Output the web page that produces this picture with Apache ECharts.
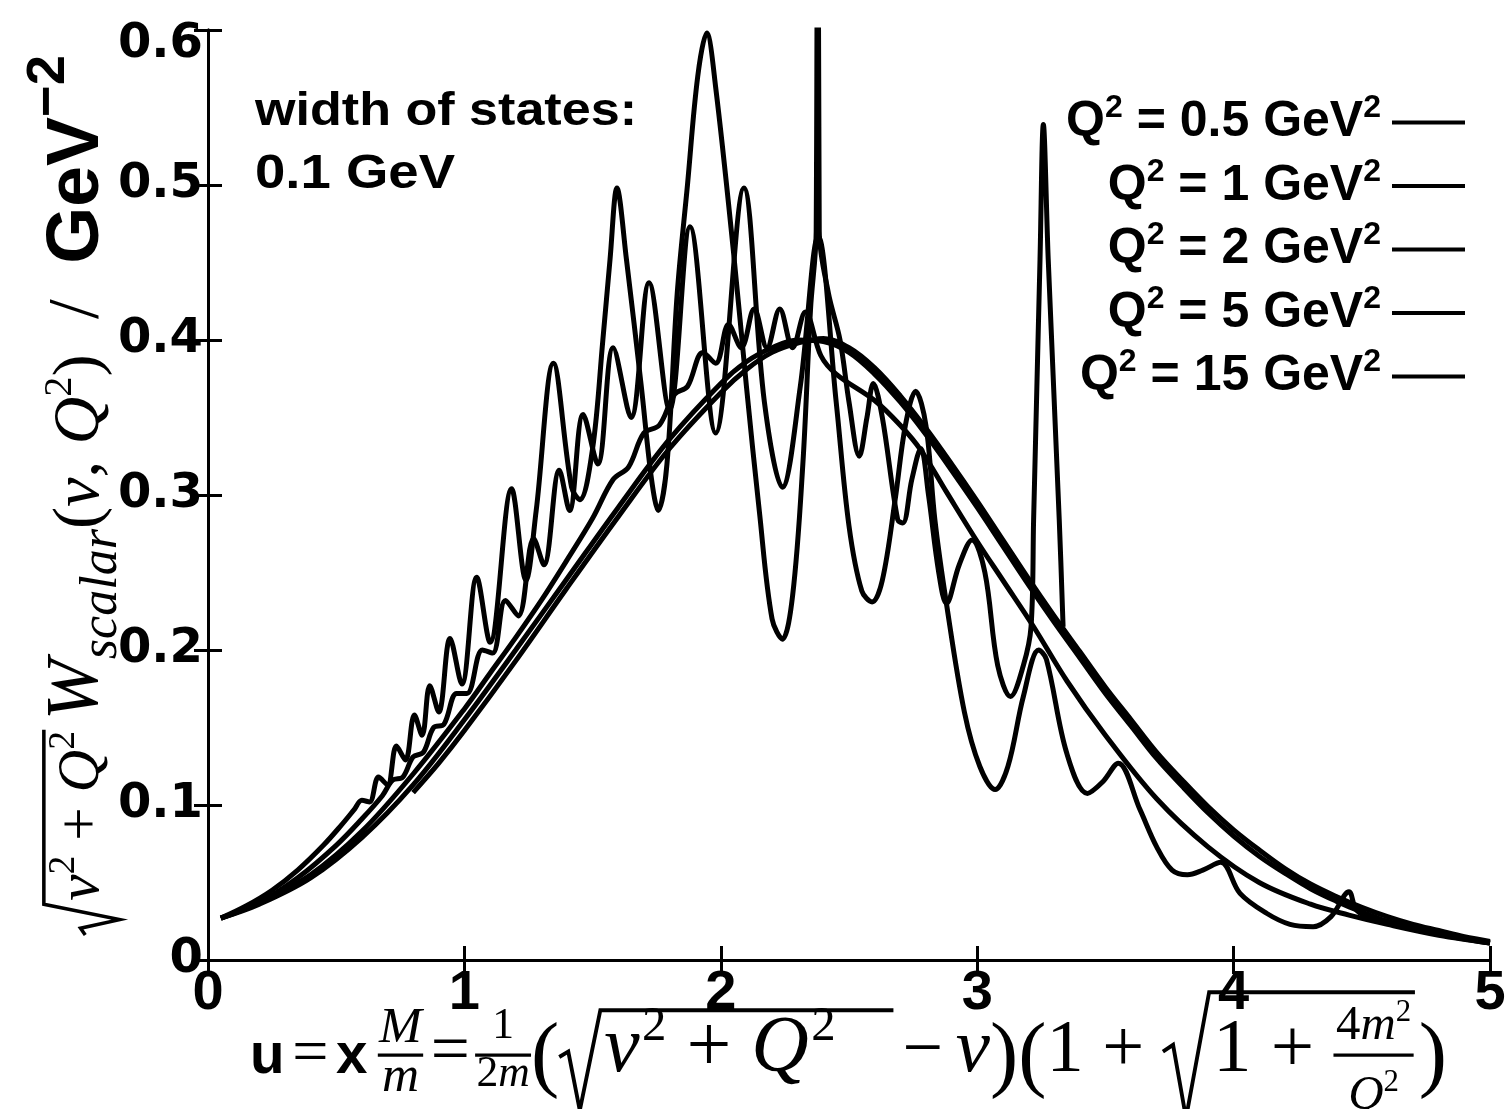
<!DOCTYPE html>
<html><head><meta charset="utf-8">
<script src="https://cdn.jsdelivr.net/npm/echarts@6/dist/echarts.min.js"></script>
<style>html,body{margin:0;padding:0;background:#fff}#c{width:1511px;height:1109px}</style>
</head><body><div id="c"></div>
<script>
// ---------------- data ----------------
const xTicks = [0, 1, 2, 3, 4, 5];
const yTicks = [0, 0.1, 0.2, 0.3, 0.4, 0.5, 0.6];
const seriesNames = ['Q² = 0.5 GeV²', 'Q² = 1 GeV²', 'Q² = 2 GeV²', 'Q² = 5 GeV²', 'Q² = 15 GeV²'];

const q2_05 = [[0.05,0.027],[0.15,0.035],[0.25,0.045],[0.35,0.058],[0.45,0.074],[0.52,0.087],[0.57,0.097],[0.60,0.103],[0.63,0.102],[0.665,0.118],[0.70,0.113],[0.735,0.138],[0.77,0.129],[0.805,0.158],[0.835,0.145],[0.865,0.177],[0.90,0.160],[0.944,0.2075],[0.99,0.178],[1.048,0.247],[1.10,0.205],[1.184,0.304],[1.24,0.245],[1.28,0.29],[1.347,0.385],[1.418,0.305],[1.45,0.297],[1.50,0.33],[1.54,0.40],[1.568,0.452],[1.595,0.498],[1.632,0.452],[1.69,0.37],[1.73,0.31],[1.756,0.29],[1.79,0.32],[1.83,0.43],[1.87,0.50],[1.91,0.57],[1.945,0.598],[1.98,0.563],[2.05,0.456],[2.10,0.37],[2.15,0.29],[2.20,0.22],[2.24,0.207],[2.28,0.235],[2.32,0.32],[2.35,0.42],[2.372,0.47],[2.378,0.90],[2.384,0.47],[2.42,0.43],[2.465,0.40],[2.50,0.36],[2.54,0.325],[2.57,0.35],[2.595,0.372],[2.63,0.35],[2.69,0.284],[2.71,0.282],[2.745,0.31],[2.78,0.33],[2.81,0.30],[2.85,0.25],[2.88,0.23],[2.93,0.255],[2.98,0.271],[3.03,0.25],[3.08,0.19],[3.13,0.17],[3.18,0.19],[3.21,0.215],[3.22,0.284],[3.245,0.452],[3.258,0.539],[3.277,0.452],[3.32,0.284],[3.335,0.215]];

const q2_1 = [[0.05,0.027],[0.2,0.037],[0.35,0.053],[0.5,0.074],[0.6,0.091],[0.68,0.106],[0.72,0.116],[0.76,0.118],[0.80,0.131],[0.84,0.134],[0.88,0.150],[0.92,0.152],[0.97,0.172],[1.01,0.172],[1.07,0.200],[1.11,0.198],[1.16,0.232],[1.21,0.222],[1.27,0.272],[1.31,0.255],[1.37,0.316],[1.41,0.290],[1.463,0.352],[1.52,0.320],[1.58,0.395],[1.65,0.350],[1.72,0.437],[1.80,0.355],[1.88,0.473],[1.98,0.340],[2.09,0.498],[2.17,0.36],[2.24,0.305],[2.31,0.37],[2.38,0.467],[2.45,0.36],[2.50,0.28],[2.55,0.238],[2.59,0.231],[2.63,0.245],[2.68,0.297],[2.72,0.345],[2.76,0.367],[2.80,0.345],[2.835,0.284],[2.88,0.23],[2.95,0.16],[3.01,0.125],[3.07,0.11],[3.12,0.125],[3.18,0.17],[3.24,0.20],[3.27,0.194],[3.35,0.133],[3.43,0.1075],[3.49,0.115],[3.55,0.127],[3.635,0.097],[3.70,0.073],[3.76,0.058],[3.82,0.055],[3.88,0.058],[3.95,0.063],[4.025,0.043],[4.13,0.030],[4.22,0.023],[4.31,0.0215],[4.38,0.028],[4.45,0.044],[4.48,0.032],[4.55,0.026],[4.7,0.020],[4.85,0.015],[5.0,0.011]];

const q2_2 = [[0.05,0.027],[0.2,0.037],[0.4,0.055],[0.6,0.083],[0.8,0.120],[1.0,0.162],[1.1,0.185],[1.2,0.208],[1.3,0.232],[1.4,0.258],[1.5,0.285],[1.58,0.31],[1.64,0.318],[1.70,0.34],[1.76,0.345],[1.82,0.365],[1.87,0.37],[1.93,0.392],[1.98,0.385],[2.03,0.41],[2.08,0.395],[2.13,0.42],[2.18,0.395],[2.23,0.42],[2.28,0.395],[2.33,0.418],[2.39,0.39],[2.45,0.378],[2.6,0.361],[2.7,0.345],[2.78,0.329],[2.88,0.302],[3.0,0.270],[3.1,0.245],[3.22,0.215],[3.35,0.180],[3.5,0.145],[3.7,0.104],[3.9,0.073],[4.1,0.050],[4.3,0.036],[4.45,0.029],[4.6,0.023],[4.8,0.016],[5.0,0.011]];

const q2_5 = [[0.05,0.027],[0.2,0.036],[0.4,0.053],[0.6,0.079],[0.8,0.113],[1.0,0.155],[1.2,0.200],[1.4,0.246],[1.6,0.292],[1.8,0.336],[2.0,0.372],[2.1,0.386],[2.2,0.395],[2.3,0.400],[2.4,0.399],[2.5,0.392],[2.6,0.378],[2.7,0.360],[2.8,0.339],[2.9,0.316],[3.0,0.292],[3.1,0.267],[3.2,0.242],[3.3,0.218],[3.4,0.195],[3.5,0.172],[3.6,0.151],[3.7,0.130],[3.8,0.112],[3.9,0.095],[4.0,0.080],[4.1,0.067],[4.2,0.056],[4.3,0.046],[4.4,0.038],[4.5,0.031],[4.6,0.025],[4.7,0.021],[4.8,0.017],[4.9,0.014],[5.0,0.011]];

const q2_15 = [[0.80,0.108],[0.9,0.127],[1.0,0.148],[1.2,0.193],[1.4,0.240],[1.6,0.286],[1.8,0.330],[2.0,0.366],[2.1,0.381],[2.2,0.392],[2.3,0.398],[2.4,0.401],[2.5,0.395],[2.6,0.382],[2.7,0.364],[2.8,0.343],[2.9,0.320],[3.0,0.296],[3.1,0.271],[3.2,0.246],[3.3,0.222],[3.4,0.199],[3.5,0.176],[3.6,0.155],[3.7,0.134],[3.8,0.116],[3.9,0.099],[4.0,0.084],[4.1,0.071],[4.2,0.059],[4.3,0.049],[4.4,0.041],[4.5,0.034],[4.6,0.028],[4.7,0.023],[4.8,0.019],[4.9,0.015],[5.0,0.012]];

const seriesData = [q2_05, q2_1, q2_2, q2_5, q2_15];

// ---------------- text layout helpers ----------------
const SERIF = "'Liberation Serif','DejaVu Serif',serif";
const SANS = "'Liberation Sans','DejaVu Sans',sans-serif";
const mctx = document.createElement('canvas').getContext('2d');
function fnt(z, st) {
  if (st === 'i') return 'italic ' + z + 'px ' + SERIF;
  if (st === 'b') return 'bold ' + z + 'px ' + SANS;
  return z + 'px ' + SERIF;
}
function tw(s, f) { mctx.font = f; return mctx.measureText(s).width; }
function layout(tokens, x0, base, els) {
  let x = x0;
  for (const tk of tokens) {
    if (tk.frac) {
      const wn = layout(tk.frac[0], 0, 0, []), wd = layout(tk.frac[1], 0, 0, []);
      const w = Math.max(wn, wd) + tk.pad * 2;
      layout(tk.frac[0], x + (w - wn) / 2, base - tk.up, els);
      layout(tk.frac[1], x + (w - wd) / 2, base + tk.down, els);
      els.push({type: 'rect', shape: {x: x, y: base - tk.bar - tk.lw / 2, width: w, height: tk.lw}, style: {fill: '#000'}});
      x += w + (tk.gap || 0);
    } else if (tk.sqrt) {
      const bw = layout(tk.sqrt, 0, 0, []) + (tk.extra || 0);
      const rw = tk.rw;
      els.push({type: 'polyline', shape: {points: [[x, base - 0.3 * tk.top], [x + rw * 0.22, base - 0.38 * tk.top], [x + rw * 0.5, base + tk.depth], [x + rw, base - tk.top], [x + rw + bw + 4, base - tk.top]]}, style: {stroke: '#000', lineWidth: 3, fill: null}});
      layout(tk.sqrt, x + rw + 3, base, els);
      x += rw + bw + 7;
    } else {
      const f = fnt(tk.z, tk.st);
      els.push({type: 'text', x: x + (tk.pre || 0), y: base + (tk.dy || 0) - 0.34 * tk.z, style: {text: tk.s, font: f, fill: '#000', align: 'left', verticalAlign: 'middle'}});
      x += (tk.pre || 0) + tw(tk.s, f) + (tk.k || 0);
    }
  }
  return x;
}
function buildTitle(tokens, target) {
  const els = [];
  const w = layout(tokens, 0, 0, els);
  return {els: els, scale: target / w};
}

const xTitleTokens = [
  {s: 'u', z: 44, st: 'b', k: 6}, {s: '=', z: 50, st: 'r', k: 6}, {s: 'x', z: 44, st: 'b', k: 8},
  {frac: [[{s: 'M', z: 40, st: 'i'}], [{s: 'm', z: 40, st: 'i'}]], up: 24, down: 14, bar: 17, lw: 2.5, pad: 1, gap: 6},
  {s: '=', z: 54, st: 'r', k: 4},
  {frac: [[{s: '1', z: 34, st: 'r'}], [{s: '2', z: 34, st: 'r'}, {s: 'm', z: 34, st: 'i'}]], up: 28, down: 10, bar: 17, lw: 2.5, pad: 1, gap: 0},
  {s: '(', z: 66, st: 'r', dy: 8},
  {sqrt: [{s: 'ν', z: 62, st: 'i', k: 2}, {s: '2', z: 38, st: 'r', dy: -26}, {s: ' + ', z: 62, st: 'r'}, {s: 'Q', z: 62, st: 'i', k: 2}, {s: '2', z: 38, st: 'r', dy: -26}], top: 52, depth: 26, rw: 32, extra: 44},
  {s: '−', z: 56, st: 'r', pre: 4, k: 10}, {s: 'ν', z: 60, st: 'i'}, {s: ')(', z: 66, st: 'r', dy: 8}, {s: '1 + ', z: 58, st: 'r'},
  {sqrt: [{s: '1 + ', z: 60, st: 'r'}, {frac: [[{s: '4', z: 38, st: 'r'}, {s: 'm', z: 38, st: 'i'}, {s: '2', z: 24, st: 'r', dy: -15}], [{s: 'Q', z: 38, st: 'i'}, {s: '2', z: 24, st: 'r', dy: -15}]], up: 27, down: 28, bar: 17, lw: 2.5, pad: 2, gap: 0}], top: 66, depth: 32, rw: 36},
  {s: ')', z: 66, st: 'r', dy: 8}
];
const yTitleTokens = [
  {sqrt: [{s: 'ν', z: 50, st: 'i'}, {s: '2', z: 32, st: 'r', dy: -22}, {s: ' + ', z: 50, st: 'r'}, {s: 'Q', z: 50, st: 'i'}, {s: '2', z: 32, st: 'r', dy: -22}], top: 50, depth: 14, rw: 26},
  {s: ' ', z: 20, st: 'r'},
  {s: 'W', z: 62, st: 'i'}, {s: 'scalar', z: 44, st: 'i', dy: 14},
  {s: '(', z: 56, st: 'r'}, {s: 'ν', z: 56, st: 'i'}, {s: ', ', z: 56, st: 'r'}, {s: 'Q', z: 56, st: 'i'}, {s: '2', z: 34, st: 'r', dy: -24}, {s: ')', z: 56, st: 'r'},
  {s: '  /  ', z: 60, st: 'r'},
  {s: 'GeV', z: 62, st: 'b'}, {s: '−2', z: 46, st: 'b', dy: -30}
];
const xT = buildTitle(xTitleTokens, 1197);
const yT = buildTitle(yTitleTokens, 880);

function fitText(s, font, target, x, y) {
  const w = tw(s, font);
  return {type: 'text', x: x, y: y, scaleX: target / w, style: {text: s, font: font, fill: '#000', align: 'left', verticalAlign: 'middle'}};
}

const chart = echarts.init(document.getElementById('c'), null, {renderer: 'canvas'});
const axisCommon = {
  type: 'value', min: 0,
  axisLine: {show: true, lineStyle: {color: '#000', width: 3}},
  axisTick: {show: true, inside: true, length: 14, lineStyle: {color: '#000', width: 3}},
  splitLine: {show: false}
};
chart.setOption({
  backgroundColor: '#fff',
  animation: false,
  grid: {left: 208, right: 21, top: 30, bottom: 149},
  xAxis: [
    Object.assign({}, axisCommon, {position: 'bottom', max: 5, interval: 1,
      axisLabel: {show: true, margin: 6, color: '#000', fontSize: 56, fontWeight: 'bold', fontFamily: SANS,
        formatter: v => String(xTicks[Math.round(v)])}}),
    Object.assign({}, axisCommon, {position: 'top', max: 5, interval: 1, axisLabel: {show: false}})
  ],
  yAxis: [
    Object.assign({}, axisCommon, {position: 'left', max: 0.6, interval: 0.1,
      axisLabel: {show: true, margin: 5, color: '#000', fontSize: 48, fontWeight: 'bold', fontFamily: "'DejaVu Sans',sans-serif",
        formatter: v => { const i = Math.round(v * 10); const t = String(yTicks[i]); return i === 6 ? '{top|' + t + '}' : t; },
        rich: {top: {fontSize: 48, fontWeight: 'bold', fontFamily: "'DejaVu Sans',sans-serif", color: '#000', padding: [30, 0, 0, 0]}}}}),
    Object.assign({}, axisCommon, {position: 'right', max: 0.6, interval: 0.1, axisLabel: {show: false}})
  ],
  legend: {
    orient: 'vertical', right: 41, top: 86, align: 'right', icon: 'rect', itemWidth: 73, itemHeight: 4, itemGap: 0.5,
    data: seriesNames,
    formatter: n => { const m = n.match(/^Q² = (.*) GeV²$/); return '{t|Q}{s|2}{t| = ' + m[1] + ' GeV}{s|2}{g|}'; },
    textStyle: {color: '#000', lineHeight: 63,
      rich: {t: {fontSize: 50, fontWeight: 'bold', fontFamily: SANS, color: '#000', lineHeight: 63},
             s: {fontSize: 32, lineHeight: 32, fontWeight: 'bold', fontFamily: SANS, color: '#000', padding: [0, 0, 28, 0]},
             g: {width: 6}}}
  },
  series: seriesData.map((d, i) => ({
    name: seriesNames[i], type: 'line', data: d, showSymbol: false, symbol: 'none',
    smooth: 0.35, clip: true,
    lineStyle: {color: '#000', width: 5}, itemStyle: {color: '#000'}
  })),
  graphic: [
    {type: 'group', x: 250, y: 1077, scaleX: xT.scale, scaleY: xT.scale, children: xT.els},
    {type: 'group', x: 103, y: 935, rotation: Math.PI / 2, scaleX: yT.scale, scaleY: yT.scale, children: yT.els},
    fitText('width of states:', 'bold 46px ' + SANS, 382, 255, 112),
    fitText('0.1 GeV', 'bold 48px ' + SANS, 200, 255, 175)
  ]
});
</script>
</body></html>
